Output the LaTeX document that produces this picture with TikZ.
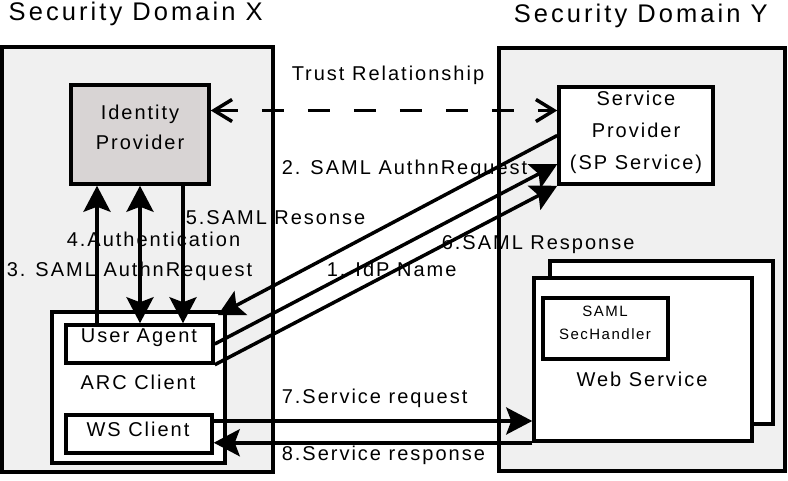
\documentclass[tikz,border=0pt]{standalone}
\usepackage{fontspec}
\setmainfont{Liberation Sans}[LetterSpace=10]
\newfontfamily\titlefont{Liberation Sans}[LetterSpace=12]
\usetikzlibrary{arrows.meta}
\definecolor{domgray}{RGB}{240,240,240}
\definecolor{idpgray}{RGB}{216,212,212}
\begin{document}
\begin{tikzpicture}
[x=1pt, y=-1pt, line width=3.5pt, color=black,
 >={Stealth[length=26pt,width=27pt,inset=5pt]},
 box/.style={draw, rectangle, inner sep=0pt, fill=white},
 txt/.style={font=\fontsize{20}{30}\selectfont, inner sep=0pt},
 lbl/.style={font=\fontsize{20}{24}\selectfont, inner sep=0pt, anchor=base west},
 title/.style={font=\titlefont\fontsize{25.5}{29}\selectfont, inner sep=0pt, anchor=base west},
 trust/.style={dash pattern=on 22pt off 24pt,
   {Straight Barb[length=18pt,width=22pt]}-{Straight Barb[length=18pt,width=22pt]}}]
  \useasboundingbox (0,0) rectangle (788,481);
  % security domains
  \node[box, fill=domgray, minimum width=271pt, minimum height=425pt] (domX) at (137.5,259.5) {};
  \node[box, fill=domgray, minimum width=286pt, minimum height=423pt] (domY) at (642,259.5) {};
  \node[title] (titleX) at (7,20.5) {Security Domain X};
  \node[title] (titleY) at (512,23) {Security Domain Y};
  % boxes
  \node[box, fill=idpgray, minimum width=138pt, minimum height=99pt] (IdP) at (140,134.5) {};
  \node[box, minimum width=154pt, minimum height=97pt] (SP) at (636,135.5) {};
  \node[box, minimum width=173pt, minimum height=151pt] (ARC) at (138.5,387.5) {};
  \node[box, minimum width=147pt, minimum height=38pt] (UA) at (139.5,344) {};
  \node[box, minimum width=146pt, minimum height=38pt] (WSC) at (139,434) {};
  \node[box, minimum width=223pt, minimum height=163pt] (WSback) at (661.5,342.5) {};
  \node[box, minimum width=218pt, minimum height=163pt] (WS) at (643,359.5) {};
  \node[box, minimum width=125pt, minimum height=61pt] (SecH) at (605.5,328.5) {};
  \node[txt, align=center] (IdPtext) at (140,127) {Identity\\Provider};
  \node[txt, align=center, font=\fontsize{20}{32}\selectfont] (SPtext) at (636,132) {Service\\Provider\\(SP Service)};
  \node[txt, anchor=base] (UAtext) at (139,343) {User Agent};
  \node[txt, anchor=base] (ARCtext) at (138,389) {ARC Client};
  \node[txt, anchor=base] (WSCtext) at (138,436) {WS Client};
  \node[txt, align=center, font=\fontsize{15}{23}\selectfont] (SecHtext) at (605,323) {SAML\\SecHandler};
  \node[txt, anchor=base] (WStext) at (642,387) {Web Service};
  % messages
  \draw[trust] ([yshift=24pt]IdP.east) -- ([yshift=24pt]IdP.east -| SP.west);
  \draw[->] ([xshift=-43pt]UA.north -| IdP.south) -- ([xshift=-43pt]IdP.south);
  \draw[<->] (UA.north -| IdP.south) -- (IdP.south);
  \draw[->] ([xshift=43pt]IdP.south) -- ([xshift=43pt]UA.north -| IdP.south);
  \draw[->] (SP.west) -- ([xshift=3pt,yshift=8pt]UA.north east);
  \foreach \from/\to in {UA.east/SP.200,UA.south east/SP.south west}
  \draw[->] (\from) -- (\to);
  \draw[->] ([yshift=13pt]WSC.east) -- ([yshift=13pt]WSC.east -| WS.west);
  \draw[->] (WS.south west) -- (WS.south west -| WSC.east);
  \node[lbl] (lTrust) at (290,81) {Trust Relationship};
  \node[lbl] (l1) at (325,277) {1. IdP Name};
  \node[lbl] (l2) at (280,175) {2. SAML AuthnRequest};
  \node[lbl] (l3) at (5,277) {3. SAML AuthnRequest};
  \node[lbl] (l4) at (65,247) {4.Authentication};
  \node[lbl] (l5) at (184,225) {5.SAML Resonse};
  \node[lbl] (l6) at (440,250) {6.SAML Response};
  \node[lbl] (l7) at (280,403) {7.Service request};
  \node[lbl] (l8) at (280,460) {8.Service response};
\end{tikzpicture}
\end{document}
